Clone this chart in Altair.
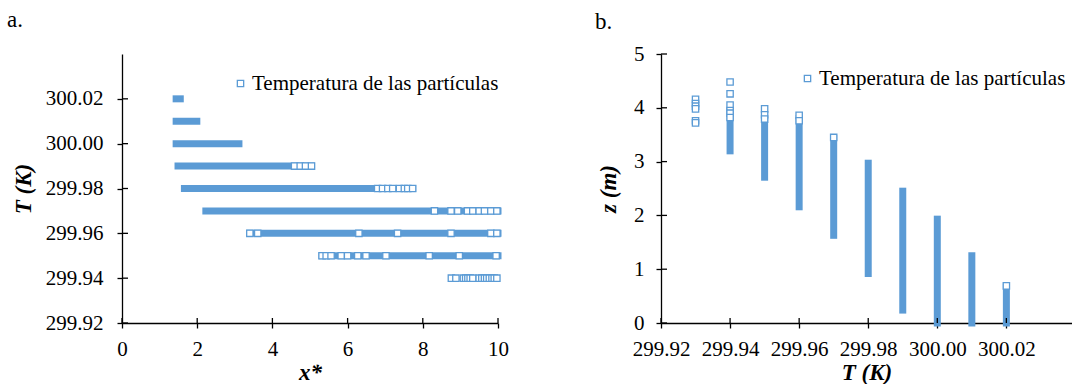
import altair as alt
import pandas as pd

BLUE = "#5B9BD5"
FONT = "Liberation Serif"
LEG = "Temperatura de las partículas"

# ---------------- panel a: T vs x* ----------------
a_T = [300.02, 300.01, 300.00, 299.99, 299.98, 299.97, 299.96, 299.95]
a_xstart = [1.44, 1.44, 1.44, 1.49, 1.66, 2.23, 3.40, 5.32]
a_xend = [1.55, 1.99, 3.11, 5.04, 7.73, 10.0, 10.0, 10.0]

a_pt_T = ([299.99] * 4 + [299.98] * 8 + [299.97] * 9 + [299.96] * 7
          + [299.95] * 11 + [299.94] * 15)
a_pt_x = [4.59, 4.74, 4.88, 5.04,
          6.80, 6.93, 7.07, 7.20, 7.38, 7.51, 7.60, 7.73,
          8.31, 8.75, 8.93, 9.19, 9.33, 9.50, 9.64, 9.81, 9.97,
          3.40, 3.61, 6.30, 7.33, 8.75, 9.81, 9.97,
          5.32, 5.43, 5.56, 5.83, 6.00, 6.27, 6.49, 7.02, 8.17, 8.97, 9.95,
          8.76, 8.88, 9.08, 9.14, 9.20, 9.26, 9.33, 9.50, 9.57, 9.64, 9.70, 9.77, 9.84, 9.90, 9.97]

a_xticks = [0, 2, 4, 6, 8, 10]
a_yticks = [299.92, 299.94, 299.96, 299.98, 300.00, 300.02]

# ---------------- panel b: z vs T ----------------
b_T = [299.94, 299.95, 299.96, 299.97, 299.98, 299.99, 300.00, 300.01, 300.02]
b_zlow = [3.20, 2.71, 2.16, 1.63, 0.92, 0.24, 0.0, 0.0, 0.0]
b_zhigh = [3.92, 3.76, 3.80, 3.43, 2.97, 2.45, 1.93, 1.25, 0.67]

b_pt_T = [299.93] * 6 + [299.94] * 6 + [299.95] * 3 + [299.96] * 2 + [299.97] + [300.02]
b_pt_z = [4.16, 4.08, 4.03, 3.98, 3.76, 3.72,
          4.48, 4.26, 4.05, 3.95, 3.90, 3.82,
          3.98, 3.87, 3.79,
          3.86, 3.76,
          3.45,
          0.69]

b_xticks = [299.92, 299.94, 299.96, 299.98, 300.00, 300.02]
b_yticks = [0, 1, 2, 3, 4, 5]

H = 269
W_A = 376
W_B = 411

axis_common = dict(
    labelFont=FONT, labelFontSize=21, labelColor="black",
    titleFont=FONT, titleFontSize=23, titleFontWeight="bold",
    titleFontStyle="italic", titleColor="black",
    domainColor="black", domainWidth=1.3, tickColor="black",
    tickWidth=1.3, tickSize=5, grid=False,
    labelFlush=False, labelOverlap=False,
)

legend_common = dict(
    title=None, orient="none", symbolType="square", symbolSize=40,
    symbolFillColor="white", symbolStrokeWidth=1.3,
    labelFont=FONT, labelFontSize=21, labelColor="black",
    labelOffset=1, padding=0, labelLimit=600,
)

point_mark = dict(shape="square", size=40, fill="white", fillOpacity=1,
                  strokeWidth=1.3, opacity=1)

# ----- build panel a -----
xa = alt.Scale(domain=[0, 10], nice=False)
ya = alt.Scale(domain=[299.92, 300.04], nice=False, zero=False)

bands_a = pd.DataFrame({"T": a_T, "x": a_xstart, "x1": a_xend})
pts_a = pd.DataFrame({"T": a_pt_T, "x": a_pt_x, "s": LEG})

band_a = alt.Chart(bands_a).mark_rule(color=BLUE, strokeWidth=7, strokeCap="square").encode(
    x=alt.X("x:Q", scale=xa,
            axis=alt.Axis(values=a_xticks, title="x*", labelPadding=10,
                          titlePadding=2, **axis_common)),
    x2="x1:Q",
    y=alt.Y("T:Q", scale=ya,
            axis=alt.Axis(values=a_yticks, format=".2f", title="T (K)",
                          labelPadding=14, titlePadding=10, **axis_common)),
)
pt_a = alt.Chart(pts_a).mark_point(**point_mark).encode(
    x="x:Q", y="T:Q",
    stroke=alt.Stroke("s:N", scale=alt.Scale(range=[BLUE]),
                      legend=alt.Legend(legendX=108, legendY=19, **legend_common)),
)
tick_ay = alt.Chart(pd.DataFrame({"T": a_yticks})).mark_rule(color="black", strokeWidth=1.3).encode(
    y="T:Q", x=alt.value(0), x2=alt.value(6))
tick_ax = alt.Chart(pd.DataFrame({"x": a_xticks})).mark_rule(color="black", strokeWidth=1.3).encode(
    x="x:Q", y=alt.value(H - 5), y2=alt.value(H))

left = alt.layer(band_a, pt_a, tick_ay, tick_ax).properties(
    width=W_A, height=H,
    title=alt.TitleParams("a.", anchor="start", frame="group", dx=-115,
                          offset=4, baseline="alphabetic", font=FONT,
                          fontSize=23, fontWeight="normal", color="black"),
)

# ----- build panel b -----
xb = alt.Scale(domain=[299.92, 300.039], nice=False, zero=False)
yb = alt.Scale(domain=[0, 5], nice=False)

bands_b = pd.DataFrame({"T": b_T, "z": b_zlow, "z1": b_zhigh})
pts_b = pd.DataFrame({"T": b_pt_T, "z": b_pt_z, "s": LEG})

band_b = alt.Chart(bands_b).mark_rule(color=BLUE, strokeWidth=7, strokeCap="square").encode(
    x=alt.X("T:Q", scale=xb,
            axis=alt.Axis(values=b_xticks, format=".2f", title="T (K)",
                          labelPadding=10, titlePadding=2, **axis_common)),
    y=alt.Y("z:Q", scale=yb,
            axis=alt.Axis(values=b_yticks, title="z (m)", labelPadding=12,
                          titlePadding=13, **axis_common)),
    y2="z1:Q",
)
pt_b = alt.Chart(pts_b).mark_point(**point_mark).encode(
    x="T:Q", y="z:Q",
    stroke=alt.Stroke("s:N", scale=alt.Scale(range=[BLUE]),
                      legend=alt.Legend(legendX=136, legendY=14, **legend_common)),
)
tick_by = alt.Chart(pd.DataFrame({"z": b_yticks})).mark_rule(color="black", strokeWidth=1.3).encode(
    y="z:Q", x=alt.value(0), x2=alt.value(6))
tick_bx = alt.Chart(pd.DataFrame({"T": b_xticks})).mark_rule(color="black", strokeWidth=1.3).encode(
    x="T:Q", y=alt.value(H - 5), y2=alt.value(H))

right = alt.layer(band_b, pt_b, tick_by, tick_bx).properties(
    width=W_B, height=H,
    title=alt.TitleParams("b.", anchor="start", frame="group", dx=-66,
                          offset=-9, baseline="alphabetic", font=FONT,
                          fontSize=23, fontWeight="normal", color="black"),
)

chart = alt.hconcat(left, right, spacing=86).resolve_scale(
    stroke="independent", x="independent", y="independent"
).resolve_legend(stroke="independent").configure(
    font=FONT
).configure_axis(
    labelFont=FONT, titleFont=FONT
).configure_legend(
    labelFont=FONT
).configure_view(stroke=None).properties(
    padding={"left": 7, "top": 9, "right": 0, "bottom": 0}
)

chart.save("out.html", embed_options={"renderer": "svg", "actions": False})
